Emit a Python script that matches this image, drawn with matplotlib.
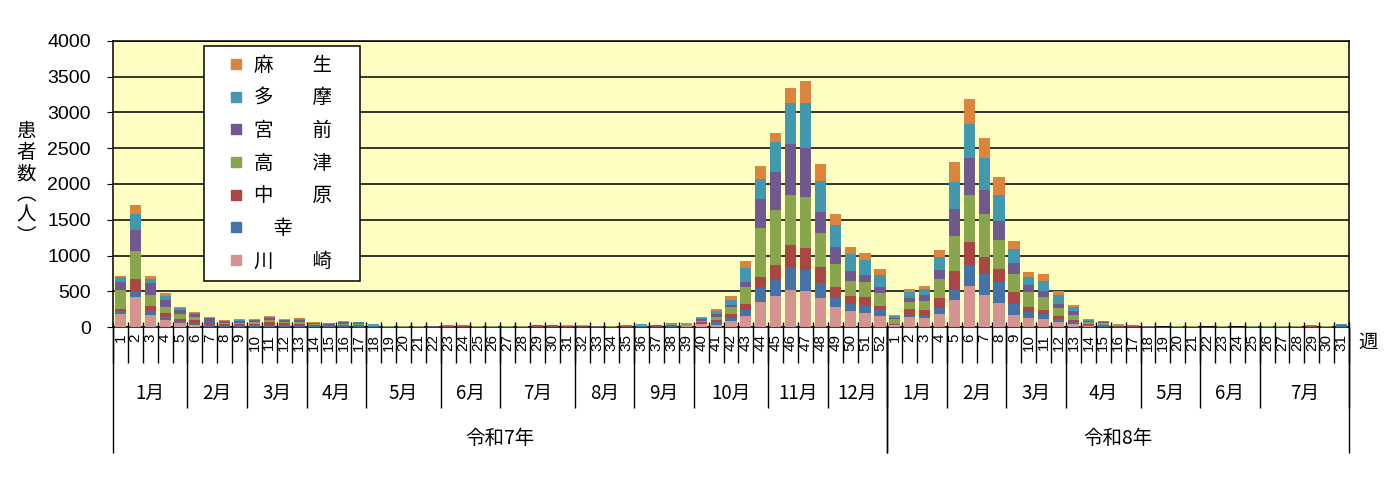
import matplotlib
matplotlib.use('Agg')
import matplotlib.pyplot as plt
import matplotlib.transforms as mtransforms
from matplotlib.lines import Line2D
import numpy as np

plt.rcParams['font.family'] = ['Noto Sans CJK JP', 'DejaVu Sans']

# 区ごとの色と凡例ラベル(下から順)
wards = ['川崎', '幸', '中原', '高津', '宮前', '多摩', '麻生']
legend_labels = ['川　　崎　', '　幸', '中　　原', '高　　津', '宮　　前', '多　　摩', '麻　　生']
colors = ['#D49592', '#4572A7', '#AA4643', '#89A54E', '#71588F', '#4198AF', '#DB843D']

# 令和7年 第1週〜第52週
kawasaki_r7 = [182, 424, 172, 103, 56, 33, 5, 5, 5, 5, 5, 5, 5, 3, 3, 4, 3, 2, 0, 0,
               0, 0, 2, 2, 0, 0, 0, 0, 2, 2, 2, 2, 0, 0, 2, 2, 2, 5, 10, 40,
               23, 89, 154, 354, 434, 517, 503, 406, 280, 224, 196, 154]
saiwai_r7 = [46, 84, 56, 42, 33, 9, 19, 15, 28, 28, 28, 19, 14, 10, 8, 10, 8, 5, 2, 2,
             2, 2, 3, 3, 2, 2, 2, 2, 3, 3, 2, 2, 2, 2, 3, 5, 3, 5, 5, 8,
             52, 37, 84, 205, 223, 327, 294, 214, 126, 98, 112, 84]
nakahara_r7 = [28, 168, 66, 55, 28, 51, 33, 28, 10, 10, 33, 28, 23, 12, 10, 15, 20, 10, 3, 2,
               2, 2, 5, 5, 3, 3, 3, 3, 8, 5, 3, 3, 2, 2, 5, 5, 8, 15, 5, 22,
               18, 56, 84, 140, 210, 303, 308, 219, 153, 112, 112, 56]
takatsu_r7 = [261, 392, 158, 84, 65, 47, 5, 9, 19, 23, 28, 14, 23, 15, 10, 15, 10, 5, 8, 3,
              3, 2, 5, 5, 3, 3, 3, 3, 3, 3, 3, 5, 2, 6, 5, 10, 3, 10, 15, 20,
              47, 98, 237, 686, 769, 699, 713, 476, 322, 209, 209, 182]
miyamae_r7 = [112, 289, 168, 98, 60, 47, 60, 28, 25, 25, 33, 28, 28, 12, 10, 20, 12, 12, 2, 2,
              2, 2, 3, 3, 3, 3, 3, 3, 5, 8, 3, 3, 2, 2, 3, 5, 5, 10, 8, 20,
              42, 32, 70, 405, 532, 713, 685, 293, 238, 140, 98, 83]
tama_r7 = [70, 223, 56, 47, 24, 14, 5, 5, 12, 10, 14, 9, 19, 10, 8, 12, 10, 5, 2, 8,
           3, 2, 5, 5, 3, 3, 3, 3, 2, 2, 3, 3, 5, 1, 5, 10, 2, 5, 5, 20,
           42, 66, 196, 285, 419, 579, 635, 434, 308, 238, 210, 168]
asao_r7 = [14, 131, 37, 47, 14, 9, 13, 8, 13, 11, 13, 9, 14, 8, 7, 8, 7, 3, 2, 2,
           7, 4, 5, 5, 5, 5, 5, 5, 5, 5, 12, 10, 1, 1, 5, 5, 5, 6, 8, 15,
           28, 56, 98, 177, 126, 205, 303, 238, 153, 98, 98, 84]

# 令和8年 第1週〜第31週
kawasaki_r8 = [28, 140, 126, 182, 378, 573, 448, 336, 168, 126, 112, 70, 42, 14, 5, 3, 2, 0, 0, 0,
               0, 0, 0, 0, 0, 0, 0, 0, 2, 0, 2]
saiwai_r8 = [5, 15, 42, 84, 139, 294, 293, 293, 154, 84, 70, 42, 28, 14, 10, 3, 3, 2, 1, 2,
             2, 1, 2, 1, 2, 2, 2, 2, 3, 2, 5]
nakahara_r8 = [14, 97, 70, 140, 266, 322, 238, 182, 168, 70, 56, 42, 28, 14, 14, 5, 5, 2, 1, 2,
               2, 1, 2, 1, 2, 2, 2, 2, 5, 2, 5]
takatsu_r8 = [70, 98, 126, 265, 490, 657, 601, 406, 251, 210, 182, 112, 70, 28, 28, 28, 5, 2, 1, 3,
              3, 1, 3, 1, 3, 3, 3, 3, 5, 3, 5]
miyamae_r8 = [13, 56, 84, 126, 377, 518, 336, 266, 154, 97, 83, 56, 56, 14, 9, 3, 3, 2, 1, 2,
              2, 1, 2, 1, 2, 2, 2, 2, 3, 2, 5]
tama_r8 = [24, 84, 83, 182, 378, 475, 448, 363, 196, 112, 140, 126, 56, 19, 14, 3, 5, 9, 1, 3,
           8, 1, 8, 1, 3, 3, 3, 3, 5, 3, 18]
asao_r8 = [14, 42, 42, 98, 280, 350, 279, 252, 112, 70, 98, 55, 28, 9, 9, 2, 10, 2, 0, 7,
           2, 0, 2, 0, 7, 7, 7, 7, 10, 7, 7]

years = ['令和7年', '令和8年']
months_r7 = ['1月', '2月', '3月', '4月', '5月', '6月', '7月', '8月', '9月', '10月', '11月', '12月']
month_weeks_r7 = [5, 4, 4, 4, 5, 4, 5, 4, 4, 5, 4, 4]
months_r8 = ['1月', '2月', '3月', '4月', '5月', '6月', '7月']
month_weeks_r8 = [4, 4, 4, 5, 4, 4, 6]

series = [kawasaki_r7 + kawasaki_r8, saiwai_r7 + saiwai_r8, nakahara_r7 + nakahara_r8,
          takatsu_r7 + takatsu_r8, miyamae_r7 + miyamae_r8, tama_r7 + tama_r8,
          asao_r7 + asao_r8]
weeks = list(range(1, len(kawasaki_r7) + 1)) + list(range(1, len(kawasaki_r8) + 1))
x = np.arange(len(weeks))

fig = plt.figure(figsize=(13.89, 4.79), dpi=100)
ax = fig.add_axes([113 / 1389, 152 / 479, 1236 / 1389, 286 / 479])
ax.set_facecolor('#FFFFC4')

bottom = np.zeros(len(weeks))
for vals, c, name in zip(series, colors, wards):
    vals = np.array(vals, dtype=float)
    ax.bar(x, vals, width=0.75, bottom=bottom, color=c, label=name, zorder=3)
    bottom += vals

ax.set_xlim(-0.5, len(weeks) - 0.5)
ax.set_ylim(0, 4000)
ax.set_yticks(np.arange(0, 4001, 500))
ax.yaxis.grid(True, color='black', lw=1.1, zorder=1)
ax.set_axisbelow(True)
for s in ax.spines.values():
    s.set_color('black')
    s.set_linewidth(1.1)

for lab in ax.get_yticklabels():
    lab.set_family(['Liberation Sans', 'DejaVu Sans'])
ax.tick_params(axis='y', labelsize=14, length=4, pad=12, color='black')

# 週番号(縦書き)
ax.set_xticks(x)
ax.set_xticklabels([str(w) for w in weeks], rotation=90, fontsize=11,
                   family=['Liberation Sans', 'DejaVu Sans'])
ax.tick_params(axis='x', length=0, pad=5)

trans = mtransforms.blended_transform_factory(ax.transData, ax.transAxes)
bounds = np.arange(len(weeks) + 1) - 0.5
ax.vlines(bounds, -0.126, 0.016, transform=trans, colors='black', lw=1, clip_on=False)

# 月と年の区切り
def month_blocks(start, names, counts):
    out = []
    pos = start
    for n, c in zip(names, counts):
        out.append((n, pos, pos + c))
        pos += c
    return out

blocks = month_blocks(0, months_r7, month_weeks_r7) + \
    month_blocks(len(kawasaki_r7), months_r8, month_weeks_r8)
for name, a, b in blocks:
    ax.vlines(b - 0.5, -0.283, 0, transform=trans, colors='black', lw=1, clip_on=False)
    ax.text((a + b - 1) / 2, -0.231, name, transform=trans, ha='center', va='center', fontsize=13.5)

year_spans = [(0, len(kawasaki_r7)), (len(kawasaki_r7), len(weeks))]
for name, (a, b) in zip(years, year_spans):
    ax.vlines([a - 0.5, b - 0.5], -0.441, 0, transform=trans, colors='black', lw=1, clip_on=False)
    ax.text((a + b - 1) / 2, -0.39, name, transform=trans, ha='center', va='center', fontsize=14)

ax.text(1.0155, -0.055, '週', transform=ax.transAxes, ha='center', va='center', fontsize=14)
ax.text(-0.07, 0.5, '患\n者\n数\n︵\n人\n︶', transform=ax.transAxes, ha='center', va='center',
        fontsize=14, linespacing=1.0)

handles = [Line2D([], [], marker='s', ls='none', color=c, markersize=7) for c in colors[::-1]]
leg = ax.legend(handles, legend_labels[::-1], loc='upper left',
                bbox_to_anchor=(204 / 1389, (479 - 46) / 479), bbox_transform=fig.transFigure,
                borderaxespad=0, fontsize=14, frameon=True, fancybox=False, framealpha=1,
                edgecolor='black', handlelength=2.4, handletextpad=-0.3, labelspacing=0.6,
                borderpad=0.45)
leg.get_frame().set_linewidth(1.1)
leg.set_zorder(5)

fig.savefig('out.png', dpi=100)
